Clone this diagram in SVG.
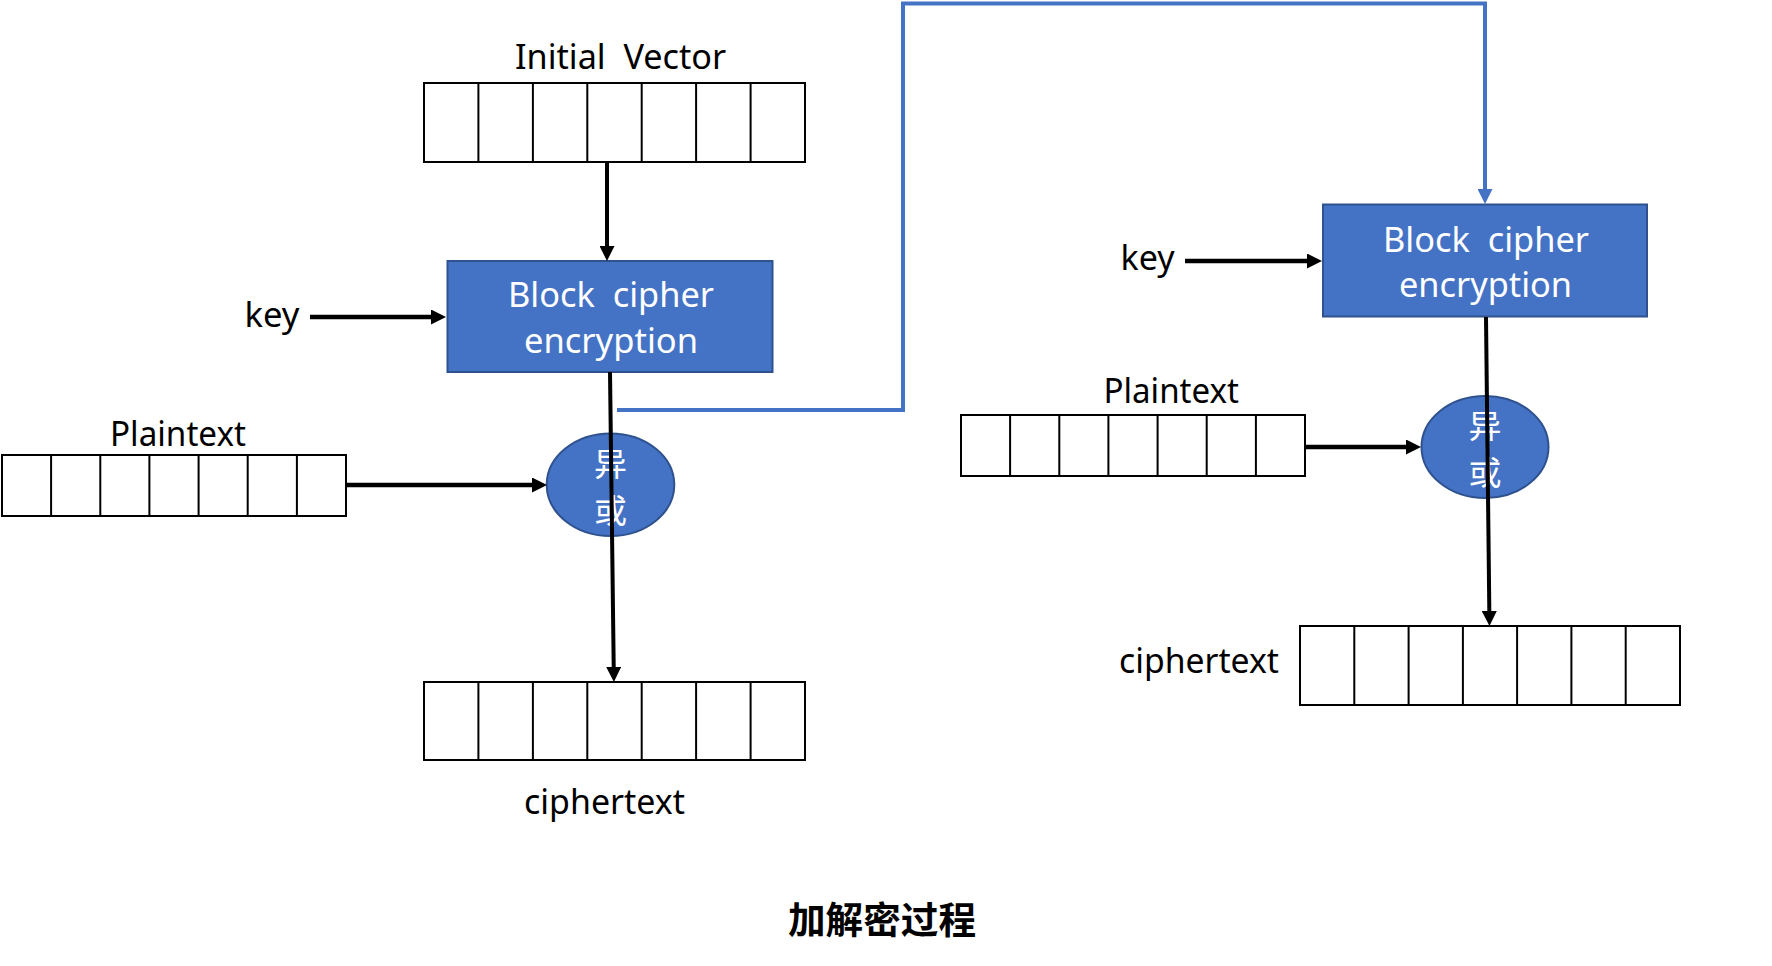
<svg xmlns="http://www.w3.org/2000/svg" width="1772" height="966" viewBox="0 0 1772 966">
<style>
  .lbl{font-family:"Noto Sans","Open Sans","Noto Sans CJK SC",sans-serif;font-size:35px;fill:#000;white-space:pre}
  .wlbl{font-family:"Noto Sans","Open Sans","Noto Sans CJK SC",sans-serif;font-size:35px;fill:#fff;white-space:pre}
  .cjk{font-family:"Noto Sans CJK SC","Noto Sans",sans-serif;font-size:33px;fill:#fff}
  .title{font-family:"Noto Sans CJK SC","Noto Sans",sans-serif;font-size:37px;font-weight:bold;fill:#000}
  .reg{fill:#fff;stroke:#000;stroke-width:2}
  .cell{stroke:#000;stroke-width:2}
  .blk{fill:#4472C4;stroke:#2F528F;stroke-width:2}
  .conn{fill:none;stroke:#000}
  .blue{fill:none;stroke:#4472C4;stroke-width:4}
</style>
<defs>
  <marker id="ah" markerUnits="userSpaceOnUse" viewBox="0 0 15 15" markerWidth="15" markerHeight="15" refX="7" refY="7.5" orient="auto">
    <path d="M0,0 L15,7.5 L0,15 z" fill="#000"/>
  </marker>
  <marker id="ahb" markerUnits="userSpaceOnUse" viewBox="0 0 15 15" markerWidth="15" markerHeight="15" refX="7" refY="7.5" orient="auto">
    <path d="M0,0 L15,7.5 L0,15 z" fill="#4472C4"/>
  </marker>
</defs>
<rect width="1772" height="966" fill="#fff"/>

<g id="iv">
  <text class="lbl" x="515" y="69" textLength="211" lengthAdjust="spacingAndGlyphs" xml:space="preserve">Initial  Vector</text>
  <rect class="reg" x="424" y="83" width="381" height="79"/>
  <path class="cell" d="M478.4,83V162M532.9,83V162M587.3,83V162M641.7,83V162M696.1,83V162M750.6,83V162"/>
</g>

<g id="block1">
  <rect class="blk" x="447.5" y="261" width="325" height="111"/>
  <text class="wlbl" x="508" y="307" textLength="206" lengthAdjust="spacingAndGlyphs" xml:space="preserve">Block  cipher</text>
  <text class="wlbl" x="524" y="353" textLength="174" lengthAdjust="spacingAndGlyphs">encryption</text>
</g>

<g id="key1">
  <text class="lbl" x="244.5" y="327" textLength="55" lengthAdjust="spacingAndGlyphs">key</text>
</g>

<g id="plain1">
  <text class="lbl" x="110" y="446" textLength="136" lengthAdjust="spacingAndGlyphs">Plaintext</text>
  <rect class="reg" x="2" y="455" width="344" height="61"/>
  <path class="cell" d="M51.1,455V516M100.3,455V516M149.4,455V516M198.6,455V516M247.7,455V516M296.9,455V516"/>
</g>

<g id="xor1">
  <ellipse class="blk" cx="610.5" cy="484.7" rx="63.8" ry="51.3" stroke-width="1.5"/>
  <text class="cjk" x="610.5" y="475.5" text-anchor="middle">异</text>
  <text class="cjk" x="610.5" y="522.5" text-anchor="middle">或</text>
</g>

<g id="cipher1">
  <rect class="reg" x="424" y="682" width="381" height="78"/>
  <path class="cell" d="M478.4,682V760M532.9,682V760M587.3,682V760M641.7,682V760M696.1,682V760M750.6,682V760"/>
  <text class="lbl" x="524" y="814" textLength="161" lengthAdjust="spacingAndGlyphs">ciphertext</text>
</g>

<g id="block2">
  <rect class="blk" x="1323" y="204.5" width="324" height="112"/>
  <text class="wlbl" x="1383" y="251.5" textLength="206" lengthAdjust="spacingAndGlyphs" xml:space="preserve">Block  cipher</text>
  <text class="wlbl" x="1399" y="297" textLength="173" lengthAdjust="spacingAndGlyphs">encryption</text>
</g>

<g id="key2">
  <text class="lbl" x="1120.5" y="270" textLength="54" lengthAdjust="spacingAndGlyphs">key</text>
</g>

<g id="plain2">
  <text class="lbl" x="1103.5" y="403" textLength="135.5" lengthAdjust="spacingAndGlyphs">Plaintext</text>
  <rect class="reg" x="961" y="415" width="344" height="61"/>
  <path class="cell" d="M1010.1,415V476M1059.3,415V476M1108.4,415V476M1157.6,415V476M1206.7,415V476M1255.9,415V476"/>
</g>

<g id="xor2">
  <ellipse class="blk" cx="1485" cy="447" rx="63.5" ry="51" stroke-width="1.5"/>
  <text class="cjk" x="1485" y="438" text-anchor="middle">异</text>
  <text class="cjk" x="1485" y="485" text-anchor="middle">或</text>
</g>

<g id="cipher2">
  <rect class="reg" x="1300" y="626" width="380" height="79"/>
  <path class="cell" d="M1354.3,626V705M1408.6,626V705M1462.9,626V705M1517.1,626V705M1571.4,626V705M1625.7,626V705"/>
  <text class="lbl" x="1119" y="673" textLength="160" lengthAdjust="spacingAndGlyphs">ciphertext</text>
</g>

<g id="caption">
  <text class="title" x="788" y="934" textLength="188" lengthAdjust="spacingAndGlyphs">加解密过程</text>
</g>

<g id="connectors">
  <path class="conn" stroke-width="4" d="M607,162 V253" marker-end="url(#ah)"/>
  <path class="conn" stroke-width="4.5" d="M310,317 H438" marker-end="url(#ah)"/>
  <path class="conn" stroke-width="4.5" d="M346,485 H539" marker-end="url(#ah)"/>
  <path class="conn" stroke-width="4" d="M610,372 L613.8,674" marker-end="url(#ah)"/>
  <path class="blue" d="M617,410 H903 V3.5 H1485 V196" marker-end="url(#ahb)"/>
  <path class="conn" stroke-width="4.5" d="M1185,261 H1314" marker-end="url(#ah)"/>
  <path class="conn" stroke-width="4.5" d="M1305,447 H1413" marker-end="url(#ah)"/>
  <path class="conn" stroke-width="4" d="M1486,317 L1489.4,618" marker-end="url(#ah)"/>
</g>
</svg>
